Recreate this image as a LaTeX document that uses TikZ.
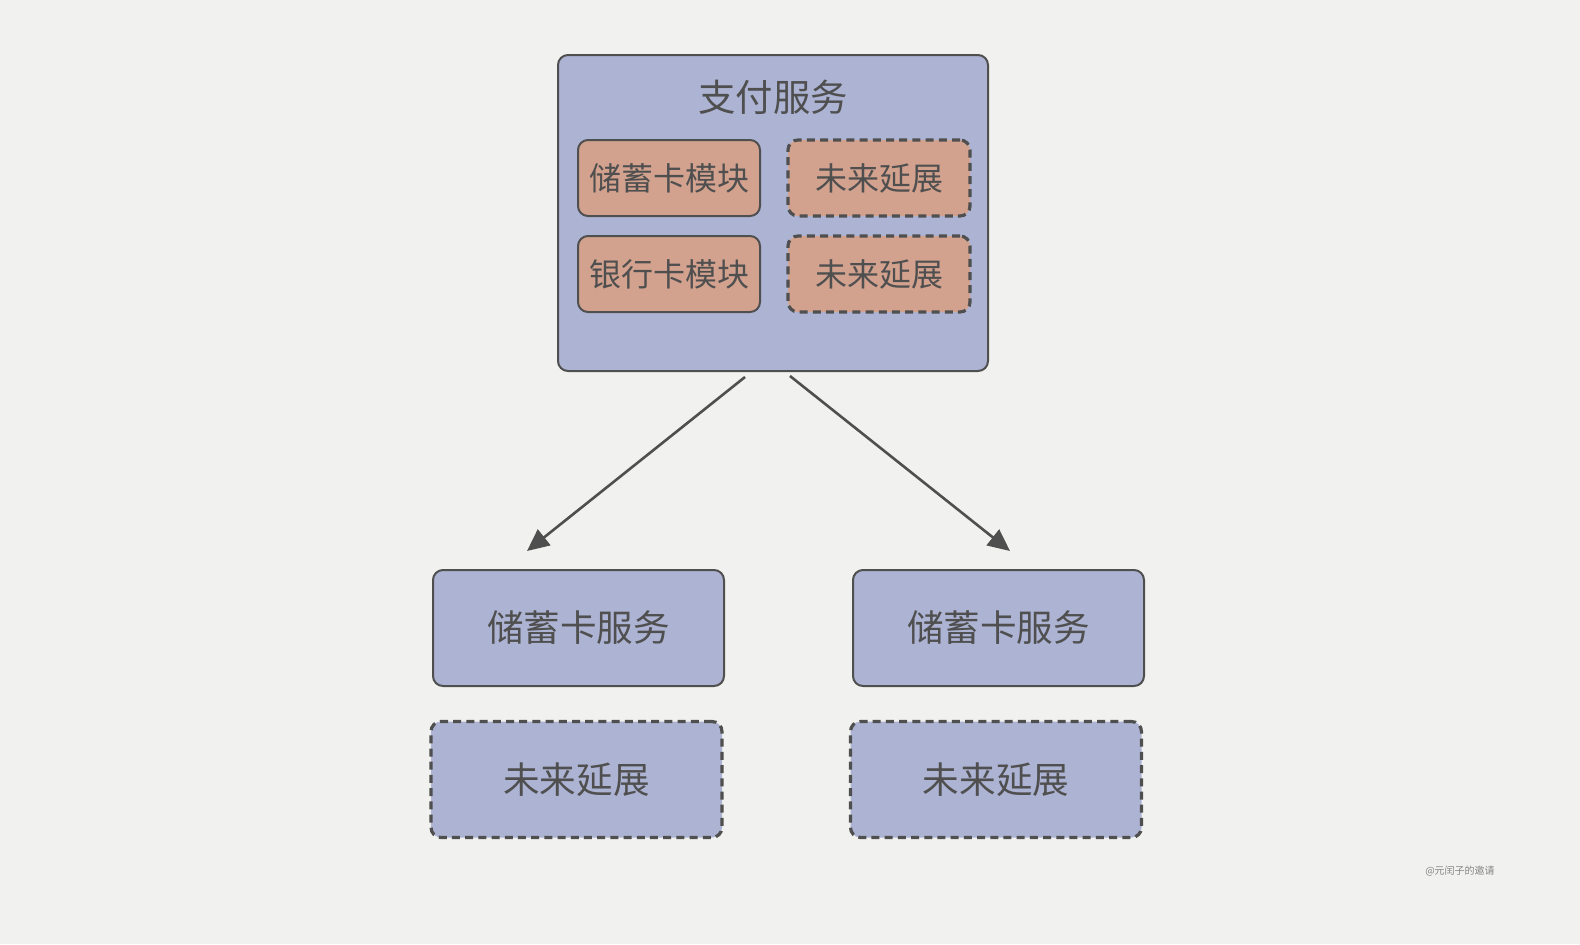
\documentclass[tikz,border=0pt]{standalone}
\usepackage{fontspec}
\setmainfont{Noto Sans CJK SC}
\usetikzlibrary{arrows.meta}
\definecolor{paper}{HTML}{F1F1EF}
\definecolor{slate}{HTML}{ADB3D3}
\definecolor{clay}{HTML}{D2A28F}
\definecolor{ink}{HTML}{4F4F4F}
\begin{document}
\begin{tikzpicture}[x=0.5pt,y=-0.5pt,
  box/.style={draw=ink, line width=1pt, rounded corners=5pt, fill=slate, text=ink, inner sep=0pt},
  future/.style={line width=1.6pt, dash pattern=on 4pt off 2.6pt},
  module/.style={box, fill=clay, minimum width=91pt, minimum height=38pt, font=\fontsize{16}{16}\selectfont},
  futuremod/.style={module, future},
  service/.style={box, minimum width=145.5pt, minimum height=58pt, font=\fontsize{18.3}{18.3}\selectfont},
  futuresvc/.style={service, future},
  link/.style={draw=ink, line width=1.3pt, -{Triangle[length=11pt, width=10pt]}}]

% background
\fill[paper] (0,0) rectangle (1580,944);
\useasboundingbox (0,0) rectangle (1580,944);

% payment service
\node[box, minimum width=215pt, minimum height=158pt] (pay) at (773,213) {};
\node[text=ink, font=\fontsize{18.7}{18.7}\selectfont] (paytitle) at (773,97) {支付服务};
\node[module] (debitmod) at (669,178) {储蓄卡模块};
\node[futuremod] (futmodA) at (879,178) {未来延展};
\node[module] (bankmod) at (669,274) {银行卡模块};
\node[futuremod] (futmodB) at (879,274) {未来延展};

% split services
\node[service] (debitL) at (578.5,628) {储蓄卡服务};
\node[futuresvc] (futL) at (576.5,779.5) {未来延展};
\node[service] (debitR) at (998.5,628) {储蓄卡服务};
\node[futuresvc] (futR) at (996,779.5) {未来延展};

% arrows
\coordinate (fromL) at (745,377);
\coordinate (toL) at (527,551);
\coordinate (fromR) at (790,376);
\coordinate (toR) at (1010,551);
\draw[link] (fromL) -- (toL);
\draw[link] (fromR) -- (toR);

\node[text=ink!70, font=\fontsize{5}{5}\selectfont] (mark) at (1460,871) {@元闰子的邀请};
\end{tikzpicture}
\end{document}
